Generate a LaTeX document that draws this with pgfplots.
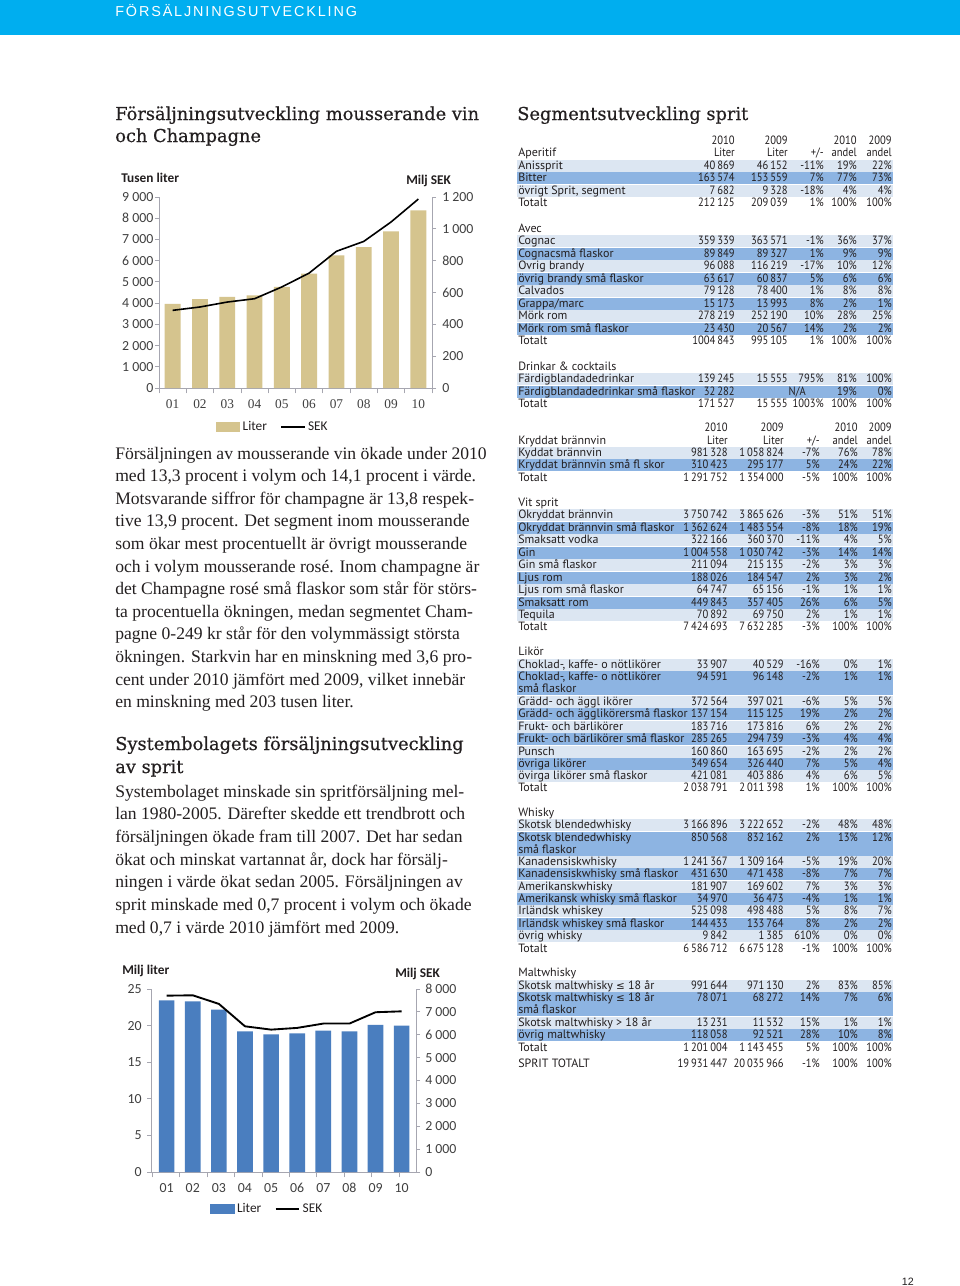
\documentclass[border=0pt]{standalone}
\usepackage{pgfplots}
\pgfplotsset{compat=1.18}
\usepackage{fontspec}
\setmainfont{Liberation Serif}
\newfontfamily\headserif[FakeBold=0.5]{DejaVu Serif}
\newfontfamily\chartfont{Carlito}
\newfontfamily\tabfont{PT Sans}
\newfontfamily\numfont[FakeStretch=0.88]{PT Sans}
\newfontfamily\headfont[LetterSpace=13]{Liberation Sans}
\newfontfamily\pagefont{Liberation Sans}
\newfontfamily\symfont{DejaVu Sans}
\definecolor{hdr}{HTML}{00AEEF}
\definecolor{lite}{HTML}{DCE6F2}
\definecolor{dark}{HTML}{8DB4E2}
\definecolor{tanbar}{HTML}{D5C48E}
\definecolor{barblue}{HTML}{4A7EBF}
\definecolor{axgray}{HTML}{A6A6B0}
\definecolor{txt}{HTML}{231F20}
\definecolor{ticktxt}{HTML}{404040}
\newcommand\tabfs{\tabfont\fontsize{9pt}{9pt}\selectfont}
\newcommand\numfs{\numfont\fontsize{9pt}{9pt}\selectfont}
\newcommand\bodyfs{\fontsize{13.2pt}{15pt}\selectfont}
\newcommand\headfs{\headserif\fontsize{13.35pt}{17pt}\selectfont}
\newcommand\cfs{\chartfont\fontsize{10.4pt}{11pt}\selectfont}
\tikzset{
 tl/.style={anchor=base west,inner sep=0pt,font=\tabfs,text=txt},
 tr/.style={anchor=base east,inner sep=0pt,font=\numfs,text=txt},
 bl/.style={anchor=base west,inner sep=0pt,font=\bodyfs,text=txt},
 hl/.style={anchor=base west,inner sep=0pt,font=\headfs,text=txt},
 cl/.style={anchor=base west,inner sep=0pt,font=\chartfont\bfseries\fontsize{10pt}{11pt}\selectfont,text=txt},
}
\newcommand\bg[3]{\fill[#1] (517,{#2-6.4}) rectangle (893,{#3+6.4});}
\newcommand\RowA[7]{%
 \node[tl] at (518,{#1+3.8}) {#2};
 \node[tr] at (735,{#1+3.8}) {#3};
 \node[tr] at (788,{#1+3.8}) {#4};
 \node[tr] at (824,{#1+3.8}) {#5};
 \node[tr] at (857,{#1+3.8}) {#6};
 \node[tr] at (892,{#1+3.8}) {#7};}
\newcommand\RowB[7]{%
 \node[tl] at (518,{#1+3.8}) {#2};
 \node[tr] at (728,{#1+3.8}) {#3};
 \node[tr] at (784,{#1+3.8}) {#4};
 \node[tr] at (820,{#1+3.8}) {#5};
 \node[tr] at (858,{#1+3.8}) {#6};
 \node[tr] at (892,{#1+3.8}) {#7};}
\newcommand\lesym{{\symfont\fontsize{7.8pt}{9pt}\selectfont ≤}}
\begin{document}
\begin{tikzpicture}[x=0.75pt,y=-0.75pt]
\useasboundingbox (0,0) rectangle (960,1286);
\fill[white] (0,0) rectangle (960,1286);
% header bar
\fill[hdr] (0,0) rectangle (960,35);
\node[anchor=base west,inner sep=0pt,text=white,font=\headfont\fontsize{10.8pt}{12pt}\selectfont] at (115,16) {FÖRSÄLJNINGSUTVECKLING};
\node[anchor=base east,inner sep=0pt,text=txt,font=\pagefont\fontsize{8pt}{9pt}\selectfont] at (914,1285) {12};
% headings
\node[hl] at (115,120) {Försäljningsutveckling mousserande vin};
\node[hl] at (115,142) {och Champagne};
\node[hl] at (115,750) {Systembolagets försäljningsutveckling};
\node[hl] at (115,773) {av sprit};
\node[hl] at (517,120) {Segmentsutveckling sprit};
% paragraph 1
\node[bl] at (115,459) {Försäljningen av mousserande vin ökade under 2010};
\node[bl] at (115,481.6) {med 13,3 procent i volym och 14,1 procent i värde.};
\node[bl] at (115,504.2) {Motsvarande siffror för champagne är 13,8 respek-};
\node[bl] at (115,526.8) {tive 13,9 procent. Det segment inom mousserande};
\node[bl] at (115,549.4) {som ökar mest procentuellt är övrigt mousserande};
\node[bl] at (115,572) {och i volym mousserande rosé. Inom champagne är};
\node[bl] at (115,594.6) {det Champagne rosé små flaskor som står för störs-};
\node[bl] at (115,617.2) {ta procentuella ökningen, medan segmentet Cham-};
\node[bl] at (115,639.8) {pagne 0-249 kr står för den volymmässigt största};
\node[bl] at (115,662.4) {ökningen. Starkvin har en minskning med 3,6 pro-};
\node[bl] at (115,685) {cent under 2010 jämfört med 2009, vilket innebär};
\node[bl] at (115,707.6) {en minskning med 203 tusen liter.};
% paragraph 2
\node[bl] at (115,797) {Systembolaget minskade sin spritförsäljning mel-};
\node[bl] at (115,819.7) {lan 1980-2005. Därefter skedde ett trendbrott och};
\node[bl] at (115,842.4) {försäljningen ökade fram till 2007. Det har sedan};
\node[bl] at (115,865.1) {ökat och minskat vartannat år, dock har försälj-};
\node[bl] at (115,887.8) {ningen i värde ökat sedan 2005. Försäljningen av};
\node[bl] at (115,910.5) {sprit minskade med 0,7 procent i volym och ökade};
\node[bl] at (115,933.2) {med 0,7 i värde 2010 jämfört med 2009.};
% ---- table block A backgrounds
\bg{lite}{166}{166}\bg{dark}{178}{178}\bg{lite}{191}{191}
\bg{lite}{241}{241}\bg{dark}{254}{254}\bg{lite}{266}{266}\bg{dark}{279}{279}
\bg{lite}{291}{291}\bg{dark}{304}{304}\bg{lite}{316}{316}\bg{dark}{329}{329}
\bg{lite}{379}{379}\bg{dark}{392}{392}
\RowA{141}{}{2010}{2009}{}{2010}{2009}
\RowA{153}{Aperitif}{Liter}{Liter}{+/-}{andel}{andel}
\RowA{166}{Anissprit}{40\,869}{46\,152}{-11\%}{19\%}{22\%}
\RowA{178}{Bitter}{163\,574}{153\,559}{7\%}{77\%}{73\%}
\RowA{191}{övrigt Sprit, segment}{7\,682}{9\,328}{-18\%}{4\%}{4\%}
\RowA{203}{Totalt}{212\,125}{209\,039}{1\%}{100\%}{100\%}
\RowA{229}{Avec}{}{}{}{}{}
\RowA{241}{Cognac}{359\,339}{363\,571}{-1\%}{36\%}{37\%}
\RowA{254}{Cognacsmå flaskor}{89\,849}{89\,327}{1\%}{9\%}{9\%}
\RowA{266}{Ovrig brandy}{96\,088}{116\,219}{-17\%}{10\%}{12\%}
\RowA{279}{övrig brandy små flaskor}{63\,617}{60\,837}{5\%}{6\%}{6\%}
\RowA{291}{Calvados}{79\,128}{78\,400}{1\%}{8\%}{8\%}
\RowA{304}{Grappa/marc}{15\,173}{13\,993}{8\%}{2\%}{1\%}
\RowA{316}{Mörk rom}{278\,219}{252\,190}{10\%}{28\%}{25\%}
\RowA{329}{Mörk rom små flaskor}{23\,430}{20\,567}{14\%}{2\%}{2\%}
\RowA{341}{Totalt}{1004\,843}{995\,105}{1\%}{100\%}{100\%}
\RowA{367}{Drinkar \& cocktails}{}{}{}{}{}
\RowA{379}{Färdigblandadedrinkar}{139\,245}{15\,555}{795\%}{81\%}{100\%}
\RowA{392}{Färdigblandadedrinkar små flaskor}{32\,282}{}{}{19\%}{0\%}
\node[tr] at (806,{392+3.8}) {N/A};
\RowA{404}{Totalt}{171\,527}{15\,555}{1003\%}{100\%}{100\%}
% ---- table block B backgrounds
\bg{lite}{453}{453}\bg{dark}{465}{465}
\bg{lite}{515}{515}\bg{dark}{528}{528}\bg{lite}{540}{540}\bg{dark}{553}{553}
\bg{lite}{565}{565}\bg{dark}{578}{578}\bg{lite}{590}{590}\bg{dark}{603}{603}
\bg{lite}{615}{615}
\bg{lite}{665}{665}\bg{dark}{677}{689}\bg{lite}{702}{702}\bg{dark}{714}{714}
\bg{lite}{727}{727}\bg{dark}{739}{739}\bg{lite}{752}{752}\bg{dark}{764}{764}
\bg{lite}{776}{776}
\bg{lite}{825}{825}\bg{dark}{838}{850}\bg{lite}{862}{862}\bg{dark}{874}{874}
\bg{lite}{887}{887}\bg{dark}{899}{899}\bg{lite}{911}{911}\bg{dark}{924}{924}
\bg{lite}{936}{936}
\bg{lite}{986}{986}\bg{dark}{998}{1010}\bg{lite}{1023}{1023}\bg{dark}{1035}{1035}
\RowB{428}{}{2010}{2009}{}{2010}{2009}
\RowB{441}{Kryddat brännvin}{Liter}{Liter}{+/-}{andel}{andel}
\RowB{453}{Kyddat brännvin}{981\,328}{1\,058\,824}{-7\%}{76\%}{78\%}
\RowB{465}{Kryddat brännvin små fl skor}{310\,423}{295\,177}{5\%}{24\%}{22\%}
\RowB{478}{Totalt}{1\,291\,752}{1\,354\,000}{-5\%}{100\%}{100\%}
\RowB{503}{Vit sprit}{}{}{}{}{}
\RowB{515}{Okryddat brännvin}{3\,750\,742}{3\,865\,626}{-3\%}{51\%}{51\%}
\RowB{528}{Okryddat brännvin små flaskor}{1\,362\,624}{1\,483\,554}{-8\%}{18\%}{19\%}
\RowB{540}{Smaksatt vodka}{322\,166}{360\,370}{-11\%}{4\%}{5\%}
\RowB{553}{Gin}{1\,004\,558}{1\,030\,742}{-3\%}{14\%}{14\%}
\RowB{565}{Gin små flaskor}{211\,094}{215\,135}{-2\%}{3\%}{3\%}
\RowB{578}{Ljus rom}{188\,026}{184\,547}{2\%}{3\%}{2\%}
\RowB{590}{Ljus rom små flaskor}{64\,747}{65\,156}{-1\%}{1\%}{1\%}
\RowB{603}{Smaksatt rom}{449\,843}{357\,405}{26\%}{6\%}{5\%}
\RowB{615}{Tequila}{70\,892}{69\,750}{2\%}{1\%}{1\%}
\RowB{627}{Totalt}{7\,424\,693}{7\,632\,285}{-3\%}{100\%}{100\%}
\RowB{652}{Likör}{}{}{}{}{}
\RowB{665}{Choklad-, kaffe- o nötlikörer}{33\,907}{40\,529}{-16\%}{0\%}{1\%}
\RowB{677}{Choklad-, kaffe- o nötlikörer}{94\,591}{96\,148}{-2\%}{1\%}{1\%}
\RowB{689}{små flaskor}{}{}{}{}{}
\RowB{702}{Grädd- och äggl ikörer}{372\,564}{397\,021}{-6\%}{5\%}{5\%}
\RowB{714}{Grädd- och ägglikörersmå flaskor}{137\,154}{115\,125}{19\%}{2\%}{2\%}
\RowB{727}{Frukt- och bärlikörer}{183\,716}{173\,816}{6\%}{2\%}{2\%}
\RowB{739}{Frukt- och bärlikörer små flaskor}{285\,265}{294\,739}{-3\%}{4\%}{4\%}
\RowB{752}{Punsch}{160\,860}{163\,695}{-2\%}{2\%}{2\%}
\RowB{764}{övriga likörer}{349\,654}{326\,440}{7\%}{5\%}{4\%}
\RowB{776}{övirga likörer små flaskor}{421\,081}{403\,886}{4\%}{6\%}{5\%}
\RowB{788}{Totalt}{2\,038\,791}{2\,011\,398}{1\%}{100\%}{100\%}
\RowB{813}{Whisky}{}{}{}{}{}
\RowB{825}{Skotsk blendedwhisky}{3\,166\,896}{3\,222\,652}{-2\%}{48\%}{48\%}
\RowB{838}{Skotsk blendedwhisky}{850\,568}{832\,162}{2\%}{13\%}{12\%}
\RowB{850}{små flaskor}{}{}{}{}{}
\RowB{862}{Kanadensiskwhisky}{1\,241\,367}{1\,309\,164}{-5\%}{19\%}{20\%}
\RowB{874}{Kanadensiskwhisky små flaskor}{431\,630}{471\,438}{-8\%}{7\%}{7\%}
\RowB{887}{Amerikanskwhisky}{181\,907}{169\,602}{7\%}{3\%}{3\%}
\RowB{899}{Amerikansk whisky små flaskor}{34\,970}{36\,473}{-4\%}{1\%}{1\%}
\RowB{911}{Irländsk whiskey}{525\,098}{498\,488}{5\%}{8\%}{7\%}
\RowB{924}{Irländsk whiskey små flaskor}{144\,433}{133\,764}{8\%}{2\%}{2\%}
\RowB{936}{övrig whisky}{9\,842}{1\,385}{610\%}{0\%}{0\%}
\RowB{949}{Totalt}{6\,586\,712}{6\,675\,128}{-1\%}{100\%}{100\%}
\RowB{973}{Maltwhisky}{}{}{}{}{}
\RowB{986}{Skotsk maltwhisky \lesym\ 18 år}{991\,644}{971\,130}{2\%}{83\%}{85\%}
\RowB{998}{Skotsk maltwhisky \lesym\ 18 år}{78\,071}{68\,272}{14\%}{7\%}{6\%}
\RowB{1010}{små flaskor}{}{}{}{}{}
\RowB{1023}{Skotsk maltwhisky > 18 år}{13\,231}{11\,532}{15\%}{1\%}{1\%}
\RowB{1035}{övrig maltwhisky}{118\,058}{92\,521}{28\%}{10\%}{8\%}
\RowB{1048}{Totalt}{1\,201\,004}{1\,143\,455}{5\%}{100\%}{100\%}
\RowB{1064}{SPRIT TOTALT}{19\,931\,447}{20\,035\,966}{-1\%}{100\%}{100\%}
% ---- chart labels
\node[cl] at (121,182) {Tusen liter};
\node[cl] at (406,184) {Milj SEK};
\node[cl] at (122,974) {Milj liter};
\node[cl] at (395,977) {Milj SEK};
% ================= chart 1
\pgfplotsset{
 mychart/.style={
  scale only axis, anchor=south west,
  axis line style={axgray, line width=0.6pt},
  tick style={axgray, line width=0.6pt},
  tick align=outside, major tick length=3pt, minor tick length=4pt,
  /pgf/number format/assume math mode=true,
  /pgf/number format/1000 sep={\hspace{0.22em}},
  scaled y ticks=false,
  tick label style={font=\cfs, text=ticktxt},
 },
 leg/.style={legend style={at={#1}, anchor=center, draw=none, fill=none,
    legend columns=2, font=\chartfont\fontsize{10pt}{11pt}\selectfont, text=txt,
    /tikz/every even column/.append style={column sep=8pt}}},
}
\begin{axis}[mychart,
  at={(119.25pt,-291pt)}, width=204.75pt, height=143.25pt,
  xmin=0.5, xmax=10.5, ymin=0, ymax=9000,
  axis y line*=left, axis x line*=bottom,
  xtick={1,...,10}, xticklabels={01,02,03,04,05,06,07,08,09,10},
  major x tick style={draw=none},
  minor xtick={0.5,1.5,...,10.5},
  xticklabel style={font=\rmfamily\fontsize{10pt}{11pt}\selectfont, yshift=-2pt},
  yticklabel style={inner sep=1pt},
  ytick={0,1000,...,9000},
]
\addplot[ybar, bar width=0.58, fill=tanbar, draw=none] coordinates {
(1,3970)(2,4190)(3,4290)(4,4365)(5,4760)(6,5385)(7,6250)(8,6640)(9,7380)(10,8370)};
\end{axis}
\begin{axis}[mychart,
  at={(119.25pt,-291pt)}, width=204.75pt, height=143.25pt,
  xmin=0.5, xmax=10.5, ymin=0, ymax=1200,
  axis y line*=right, axis x line=none,
  ytick={0,200,...,1200},
  yticklabel style={inner sep=4.5pt},
  leg={(0.418,-0.204)},
]
\addlegendimage{legend image code/.code={\fill[tanbar] (0cm,-0.11cm) rectangle (0.62cm,0.13cm);}}
\addlegendentry{Liter}
\addplot[black, line width=1.2pt, mark=none, legend image code/.code={\draw[black,line width=1.2pt] (0cm,0cm) -- (0.62cm,0cm);}] coordinates {
(1,488)(2,509)(3,540)(4,561)(5,635)(6,722)(7,859)(8,921)(9,1043)(10,1187)};
\addlegendentry{SEK}
\end{axis}
% ================= chart 2
\begin{axis}[mychart,
  at={(113.25pt,-879pt)}, width=198.75pt, height=137.25pt,
  xmin=0.4, xmax=10.55, ymin=0, ymax=25,
  axis y line*=left, axis x line*=bottom,
  xtick={1,...,10}, xticklabels={01,02,03,04,05,06,07,08,09,10},
  major x tick style={draw=none},
  minor xtick={0.45,1.5,...,10.5},
  xticklabel style={yshift=-2pt},
  yticklabel style={inner sep=3.75pt},
  ytick={0,5,...,25},
]
\addplot[ybar, bar width=0.6, fill=barblue, draw=none] coordinates {
(1,23.45)(2,23.3)(3,22.2)(4,19.2)(5,18.8)(6,18.95)(7,19.3)(8,19.2)(9,20.1)(10,20.0)};
\end{axis}
\begin{axis}[mychart,
  at={(113.25pt,-879pt)}, width=198.75pt, height=137.25pt,
  xmin=0.4, xmax=10.55, ymin=0, ymax=8000,
  axis y line*=right, axis x line=none,
  ytick={0,1000,...,8000},
  yticklabel style={inner sep=3.75pt},
  leg={(0.44,-0.202)},
]
\addlegendimage{legend image code/.code={\fill[barblue] (0cm,-0.11cm) rectangle (0.62cm,0.13cm);}}
\addlegendentry{Liter}
\addplot[black, line width=1.4pt, mark=none, legend image code/.code={\draw[black,line width=1.4pt] (0cm,0cm) -- (0.62cm,0cm);}] coordinates {
(1,7710)(2,7725)(3,7350)(4,6370)(5,6225)(6,6300)(7,6490)(8,6490)(9,6985)(10,7025)};
\addlegendentry{SEK}
\end{axis}
\end{tikzpicture}
\end{document}
